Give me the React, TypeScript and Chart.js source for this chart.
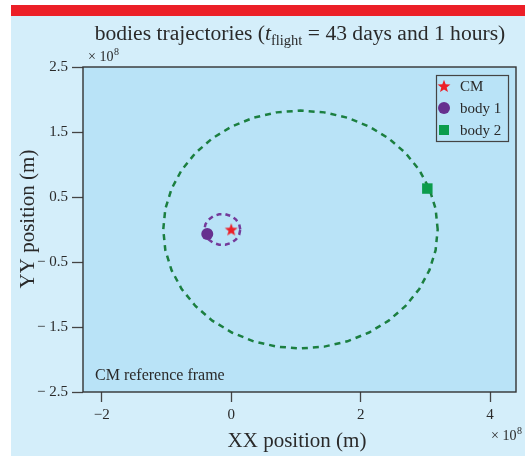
import React, { useEffect, useRef } from 'react';
import { Chart, registerables } from 'chart.js';

Chart.register(...registerables);

// ---- data (units of 1e8 m) ----
const xTickValues = [-2, 0, 2, 4];
const yTickValues = [-2.5, -1.5, -0.5, 0.5, 1.5, 2.5];
const xRange = [-2.29, 4.4];
const yRange = [-2.5, 2.5];

const body2TrajX = [3.19, 3.158, 3.062, 2.906, 2.694, 2.433, 2.13, 1.795, 1.438, 1.07, 0.702, 0.345, 0.01, -0.293, -0.554, -0.766, -0.922, -1.018, -1.05,
  -1.018, -0.922, -0.766, -0.554, -0.293, 0.01, 0.345, 0.702, 1.07, 1.438, 1.795, 2.13, 2.433, 2.694, 2.906, 3.062, 3.158, 3.19];
const body2TrajY = [0, 0.318, 0.626, 0.915, 1.176, 1.402, 1.585, 1.72, 1.802, 1.83, 1.802, 1.72, 1.585, 1.402, 1.176, 0.915, 0.626, 0.318, 0,
  -0.318, -0.626, -0.915, -1.176, -1.402, -1.585, -1.72, -1.802, -1.83, -1.802, -1.72, -1.585, -1.402, -1.176, -0.915, -0.626, -0.318, 0];

const body1TrajX = [0.14, 0.123, 0.074, 0.0, -0.091, -0.187, -0.277, -0.35, -0.398, -0.415,
  -0.398, -0.35, -0.277, -0.187, -0.091, 0.0, 0.074, 0.123, 0.14];
const body1TrajY = [0, 0.081, 0.153, 0.206, 0.234, 0.234, 0.206, 0.153, 0.081, 0,
  -0.081, -0.153, -0.206, -0.234, -0.234, -0.206, -0.153, -0.081, 0];

const cmPos = [0, 0];
const body1Pos = [-0.37, -0.07];
const body2Pos = [3.03, 0.63];

const legendLabels = ['CM', 'body 1', 'body 2'];

const RED = '#ec1f27';
const PURPLE = '#66308f';
const PURPLE_LINE = '#743a9a';
const GREEN = '#0c9c4c';
const GREEN_LINE = '#1b7f40';
const TEXT = '#2a2a2a';
const SERIF = '"Liberation Serif", "DejaVu Serif", serif';

function starPath(ctx: CanvasRenderingContext2D, cx: number, cy: number, R: number, r: number) {
  ctx.beginPath();
  for (let i = 0; i < 10; i++) {
    const rad = i % 2 === 0 ? R : r;
    const a = -Math.PI / 2 + (i * Math.PI) / 5;
    const px = cx + rad * Math.cos(a);
    const py = cy + rad * Math.sin(a);
    if (i === 0) ctx.moveTo(px, py);
    else ctx.lineTo(px, py);
  }
  ctx.closePath();
}

function makeStar(): HTMLCanvasElement {
  const c = document.createElement('canvas');
  c.width = 16;
  c.height = 16;
  const g = c.getContext('2d')!;
  g.fillStyle = RED;
  starPath(g, 8, 8.6, 6.8, 2.8);
  g.fill();
  return c;
}

const decorPlugin = {
  id: 'decor',
  beforeDraw(chart: any) {
    const { ctx, width, height, chartArea } = chart;
    ctx.save();
    ctx.fillStyle = '#ffffff';
    ctx.fillRect(0, 0, width, height);
    ctx.fillStyle = '#d4eefa';
    ctx.fillRect(11, 16, width - 11, height - 16);
    ctx.fillStyle = RED;
    ctx.fillRect(11, 5, width - 11, 11);
    ctx.fillStyle = '#b9e3f7';
    ctx.fillRect(chartArea.left, chartArea.top, chartArea.right - chartArea.left, chartArea.bottom - chartArea.top);
    ctx.restore();
  },
  afterDraw(chart: any) {
    const { ctx, chartArea } = chart;
    ctx.save();
    // plot frame
    ctx.strokeStyle = '#333333';
    ctx.lineWidth = 1.4;
    ctx.strokeRect(chartArea.left, chartArea.top, chartArea.right - chartArea.left, chartArea.bottom - chartArea.top);

    ctx.fillStyle = TEXT;
    ctx.textBaseline = 'alphabetic';
    ctx.textAlign = 'left';

    // title with subscript
    const parts = [
      { t: 'bodies trajectories (', f: `21.6px ${SERIF}`, dy: 0 },
      { t: 't', f: `italic 21.6px ${SERIF}`, dy: 0 },
      { t: 'flight', f: `14.5px ${SERIF}`, dy: 5 },
      { t: ' = 43 days and 1 hours)', f: `21.6px ${SERIF}`, dy: 0 },
    ];
    let total = 0;
    for (const p of parts) {
      ctx.font = p.f;
      total += ctx.measureText(p.t).width;
    }
    let x = 300 - total / 2;
    for (const p of parts) {
      ctx.font = p.f;
      ctx.fillText(p.t, x, 40 + p.dy);
      x += ctx.measureText(p.t).width;
    }

    // x 10^8 multipliers
    const mult = (x0: number, y0: number) => {
      ctx.font = `14px ${SERIF}`;
      const s = '× 10';
      ctx.fillText(s, x0, y0);
      const w = ctx.measureText(s).width;
      ctx.font = `10px ${SERIF}`;
      ctx.fillText('8', x0 + w + 0.5, y0 - 6);
    };
    mult(88, 61);
    mult(491, 440);

    // axis titles
    ctx.font = `21px ${SERIF}`;
    ctx.textAlign = 'center';
    ctx.fillText('XX position (m)', 297, 447);
    ctx.save();
    ctx.translate(34, 219);
    ctx.rotate(-Math.PI / 2);
    ctx.fillText('YY position (m)', 0, 0);
    ctx.restore();

    // inner annotation
    ctx.textAlign = 'left';
    ctx.font = `16px ${SERIF}`;
    ctx.fillText('CM reference frame', 95, 380);

    // legend
    const lx = 436.5, ly = 75.5, lw = 72, lh = 66;
    ctx.strokeStyle = '#444444';
    ctx.lineWidth = 1.2;
    ctx.strokeRect(lx, ly, lw, lh);
    const rows = [86, 108, 130];
    ctx.fillStyle = RED;
    starPath(ctx, 444, rows[0] + 0.6, 6.8, 2.8);
    ctx.fill();
    ctx.fillStyle = PURPLE;
    ctx.beginPath();
    ctx.arc(444, rows[1], 6, 0, Math.PI * 2);
    ctx.fill();
    ctx.fillStyle = GREEN;
    ctx.fillRect(439, rows[2] - 5, 10, 10);
    ctx.fillStyle = TEXT;
    ctx.font = `15px ${SERIF}`;
    ctx.textBaseline = 'middle';
    legendLabels.forEach((l, i) => ctx.fillText(l, 460, rows[i] + 1));
    ctx.restore();
  },
};

export default function App() {
  const ref = useRef<HTMLCanvasElement | null>(null);

  useEffect(() => {
    if (!ref.current) return;
    const star = makeStar();
    const chart = new Chart(ref.current, {
      type: 'scatter',
      data: {
        datasets: [
          {
            label: legendLabels[0],
            data: [{ x: cmPos[0], y: cmPos[1] }],
            pointStyle: star as any,
            pointRadius: 8,
            order: 0,
          } as any,
          {
            label: legendLabels[1],
            data: [{ x: body1Pos[0], y: body1Pos[1] }],
            pointStyle: 'circle',
            pointRadius: 6,
            backgroundColor: PURPLE,
            borderWidth: 0,
            order: 0,
          },
          {
            label: legendLabels[2],
            data: [{ x: body2Pos[0], y: body2Pos[1] }],
            pointStyle: 'rect',
            pointRadius: 7.4,
            backgroundColor: GREEN,
            borderWidth: 0,
            order: 0,
          },
          {
            label: 'body 1 trajectory',
            data: body1TrajX.map((v, i) => ({ x: v, y: body1TrajY[i] })),
            showLine: true,
            pointRadius: 0,
            borderColor: PURPLE_LINE,
            borderWidth: 2.5,
            borderDash: [5, 4],
            tension: 0,
            order: 1,
          },
          {
            label: 'body 2 trajectory',
            data: body2TrajX.map((v, i) => ({ x: v, y: body2TrajY[i] })),
            showLine: true,
            pointRadius: 0,
            borderColor: GREEN_LINE,
            borderWidth: 2.5,
            borderDash: [6, 5],
            tension: 0,
            order: 1,
          },
        ],
      },
      options: {
        animation: false,
        responsive: false,
        devicePixelRatio: 1,
        layout: { padding: { left: 0, top: 67, right: 9, bottom: 0 } },
        plugins: {
          legend: { display: false },
          title: { display: false },
          tooltip: { enabled: false },
        },
        events: [],
        scales: {
          x: {
            type: 'linear',
            min: xRange[0],
            max: xRange[1],
            afterBuildTicks: (s: any) => {
              s.ticks = xTickValues.map((v) => ({ value: v }));
            },
            afterFit: (s: any) => {
              s.height = 64;
            },
            grid: { display: true, drawOnChartArea: false, drawTicks: true, tickLength: 10, tickColor: '#444', tickWidth: 1.3 },
            border: { display: false },
            ticks: {
              color: TEXT,
              font: { family: SERIF, size: 15 },
              padding: 4,
              maxRotation: 0,
              callback: (v: any) => (v < 0 ? '−' + Math.abs(v) : String(v)),
            },
          },
          y: {
            type: 'linear',
            min: yRange[0],
            max: yRange[1],
            afterBuildTicks: (s: any) => {
              s.ticks = yTickValues.map((v) => ({ value: v }));
            },
            afterFit: (s: any) => {
              s.width = 83;
            },
            grid: { display: true, drawOnChartArea: false, drawTicks: true, tickLength: 11, tickColor: '#444', tickWidth: 1.3 },
            border: { display: false },
            ticks: {
              color: TEXT,
              font: { family: SERIF, size: 15 },
              padding: 4,
              callback: (v: any) => (v < 0 ? '− ' + Math.abs(v) : String(v)),
            },
          },
        },
      },
      plugins: [decorPlugin],
    } as any);
    return () => chart.destroy();
  }, []);

  return (
    <div style={{ position: 'fixed', left: 0, top: 0, width: 525, height: 456 }}>
      <canvas ref={ref} width={525} height={456} style={{ display: 'block' }} />
    </div>
  );
}
